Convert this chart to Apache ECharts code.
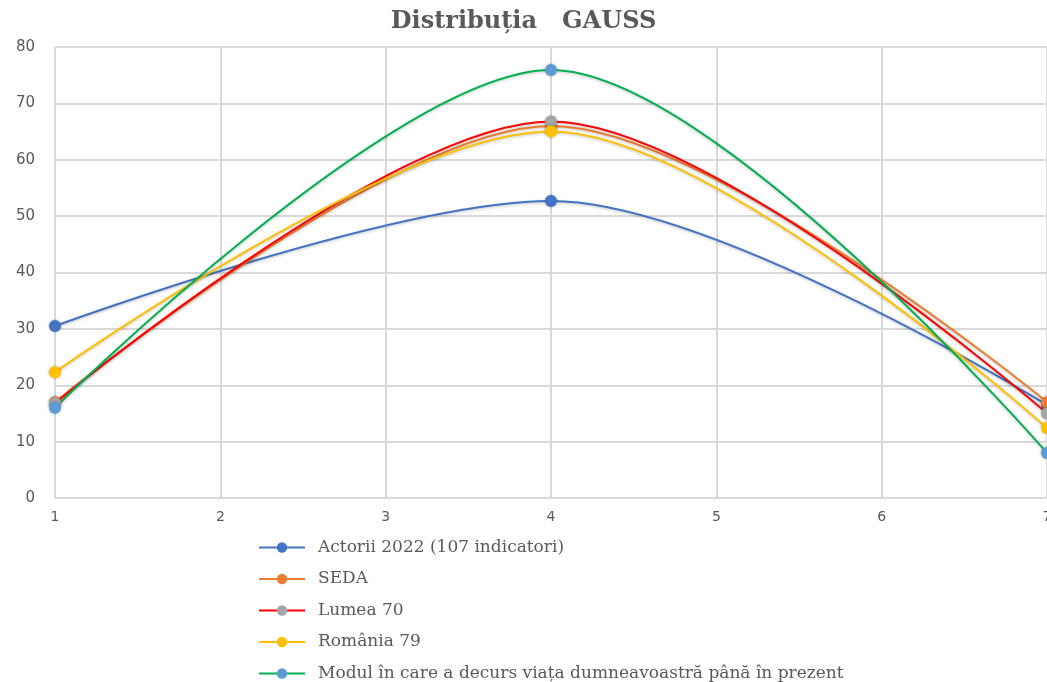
<!DOCTYPE html>
<html><head><meta charset="utf-8">
<script src="https://cdn.jsdelivr.net/npm/echarts@6/dist/echarts.min.js"></script>
<style>html,body{margin:0;padding:0;background:#fff}#c{width:1047px;height:682px}</style>
</head><body><div id="c"></div>
<script>
const xValues = [1, 4, 7];
const seriesNames = ['Actorii 2022 (107 indicatori)', 'SEDA', 'Lumea 70', 'România 79', 'Modul în care a decurs viața dumneavoastră până în prezent'];
const actorii = [30.5, 52.7, 16.5];
const seda = [17.0, 66.0, 17.0];
const lumea = [16.8, 66.8, 15.0];
const romania = [22.3, 65.0, 12.4];
const modul = [16.0, 75.9, 8.0];
const yTicks = [0, 10, 20, 30, 40, 50, 60, 70, 80];
const xTicks = [1, 2, 3, 4, 5, 6, 7];

const lineColors = ['#4472C4', '#ED7D31', '#FF0000', '#FFC000', '#00B050'];
const markerColors = ['#4472C4', '#ED7D31', '#A5A5A5', '#FFC000', '#5B9BD5'];
const allData = [actorii, seda, lumea, romania, modul];

const chart = echarts.init(document.getElementById('c'));
chart.setOption({
  animation: false,
  title: {
    text: 'Distribuția   GAUSS', left: 'center', top: 5,
    textStyle: { fontFamily: 'DejaVu Serif', fontWeight: 'bold', fontSize: 24, color: '#595959' }
  },
  grid: { left: 55, right: 0, top: 47, bottom: 184, outerBoundsMode: 'none', containLabel: false },
  xAxis: {
    type: 'value', min: xTicks[0], max: xTicks[xTicks.length - 1], interval: 1,
    axisLine: { show: false }, axisTick: { show: false },
    axisLabel: { fontFamily: 'DejaVu Sans', fontSize: 14, color: '#595959', margin: 12 },
    splitLine: { show: true, lineStyle: { color: '#D9D9D9', width: 2 } }
  },
  yAxis: {
    type: 'value', min: yTicks[0], max: yTicks[yTicks.length - 1], interval: 10,
    axisLine: { show: false }, axisTick: { show: false },
    axisLabel: { fontFamily: 'DejaVu Sans', fontSize: 15, color: '#595959', margin: 20 },
    splitLine: { show: true, lineStyle: { color: '#D9D9D9', width: 2 } }
  },
  legend: {
    orient: 'vertical', left: 253, top: 534, height: 200, itemWidth: 46, itemHeight: 13, itemGap: 14.5,
    textStyle: { fontFamily: 'DejaVu Serif', fontSize: 17, color: '#595959', padding: [0, 0, 0, 8] },
    data: seriesNames
  },
  series: seriesNames.map((name, i) => ({
    name, type: 'line', smooth: 0.32,
    data: xValues.map((x, j) => [x, allData[i][j]]),
    symbol: 'circle', symbolSize: 12,
    lineStyle: { color: lineColors[i], width: 2, shadowColor: 'rgba(0,0,0,0.25)', shadowBlur: 3, shadowOffsetY: 1 },
    itemStyle: { color: markerColors[i], shadowColor: 'rgba(0,0,0,0.3)', shadowBlur: 3 }
  }))
});
</script></body></html>
